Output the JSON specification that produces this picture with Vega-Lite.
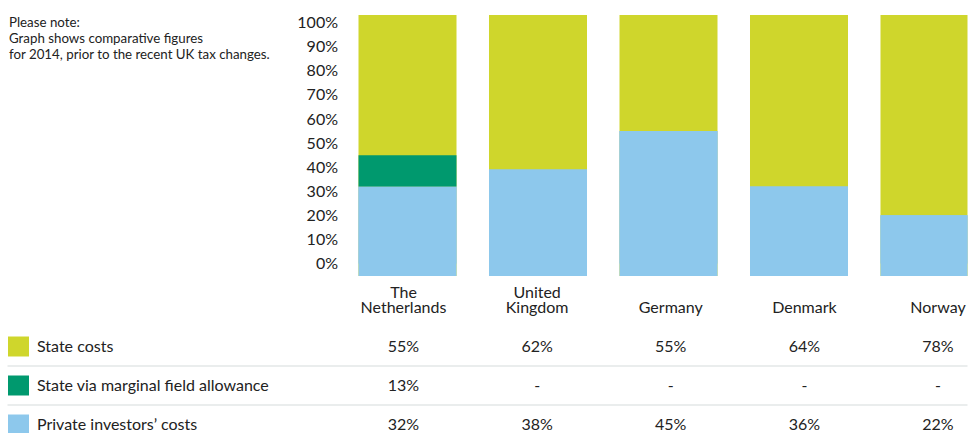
{
  "$schema": "https://vega.github.io/schema/vega-lite/v6.json",
  "padding": {"left": -2.5, "top": 14, "right": 0, "bottom": 0},
  "autosize": {"type": "pad"},
  "spacing": 8,
  "config": {
    "view": {"stroke": null},
    "font": "Lato",
    "text": {"font": "Lato"},
    "axisQuantitative": {"labelOverlap": false, "tickCount": 11}
  },
  "datasets": {
    "bars": [
      {"country": "The Netherlands", "category": "Private investors’ costs", "pct": 32},
      {"country": "The Netherlands", "category": "State via marginal field allowance", "pct": 13},
      {"country": "The Netherlands", "category": "State costs", "pct": 55},
      {"country": "United Kingdom", "category": "Private investors’ costs", "pct": 39},
      {"country": "United Kingdom", "category": "State costs", "pct": 61},
      {"country": "Germany", "category": "Private investors’ costs", "pct": 55},
      {"country": "Germany", "category": "State costs", "pct": 45},
      {"country": "Denmark", "category": "Private investors’ costs", "pct": 32},
      {"country": "Denmark", "category": "State costs", "pct": 68},
      {"country": "Norway", "category": "Private investors’ costs", "pct": 20},
      {"country": "Norway", "category": "State costs", "pct": 80}
    ],
    "table": [
      {"country": "The Netherlands", "row": "State costs", "label": "55%"},
      {"country": "United Kingdom", "row": "State costs", "label": "62%"},
      {"country": "Germany", "row": "State costs", "label": "55%"},
      {"country": "Denmark", "row": "State costs", "label": "64%"},
      {"country": "Norway", "row": "State costs", "label": "78%"},
      {"country": "The Netherlands", "row": "State via marginal field allowance", "label": "13%"},
      {"country": "United Kingdom", "row": "State via marginal field allowance", "label": "-"},
      {"country": "Germany", "row": "State via marginal field allowance", "label": "-"},
      {"country": "Denmark", "row": "State via marginal field allowance", "label": "-"},
      {"country": "Norway", "row": "State via marginal field allowance", "label": "-"},
      {"country": "The Netherlands", "row": "Private investors’ costs", "label": "32%"},
      {"country": "United Kingdom", "row": "Private investors’ costs", "label": "38%"},
      {"country": "Germany", "row": "Private investors’ costs", "label": "45%"},
      {"country": "Denmark", "row": "Private investors’ costs", "label": "36%"},
      {"country": "Norway", "row": "Private investors’ costs", "label": "22%"}
    ]
  },
  "vconcat": [
    {
      "width": 960,
      "height": 261,
      "data": {"name": "bars"},
      "encoding": {
        "x": {
          "field": "country", "type": "nominal",
          "sort": ["The Netherlands", "United Kingdom", "Germany", "Denmark", "Norway"],
          "scale": {"range": [351, 971], "paddingInner": 0.249, "paddingOuter": 0},
          "axis": null
        },
        "color": {
          "field": "category", "type": "nominal",
          "scale": {
            "domain": ["State costs", "State via marginal field allowance", "Private investors’ costs"],
            "range": ["#CFD62C", "#00996E", "#8DC8EC"]
          },
          "legend": null
        }
      },
      "layer": [
        {
          "transform": [{"filter": "datum.category === 'State costs'"}],
          "mark": {"type": "bar", "clip": true},
          "encoding": {
            "y": {
              "datum": 103.2, "type": "quantitative",
              "scale": {"domain": [-5.2, 103.2], "nice": false, "zero": false},
              "axis": {
                "values": [0, 10, 20, 30, 40, 50, 60, 70, 80, 90, 100],
                "labelExpr": "datum.value + '%'",
                "labelOverlap": false,
                "domain": false, "ticks": false, "grid": false,
                "minExtent": 0,
                "labelPadding": 4, "labelFontSize": 16, "labelColor": "#222222", "labelFont": "Lato",
                "offset": -334,
                "title": ["Please note:", "Graph shows comparative figures", "for 2014, prior to the recent UK tax changes."],
                "titleAngle": 0, "titleAlign": "left", "titleBaseline": "top",
                "titleX": -333, "titleY": 0,
                "titleFontSize": 13.3, "titleFontWeight": "normal", "titleColor": "#222222",
                "titleFont": "Lato", "titleLineHeight": 16
              }
            },
            "y2": {"datum": -5.2}
          }
        },
        {
          "transform": [{"filter": "datum.category === 'Private investors’ costs'"}],
          "mark": {"type": "bar", "clip": true},
          "encoding": {
            "y": {"field": "pct", "type": "quantitative",
              "axis": {
                "values": [0, 10, 20, 30, 40, 50, 60, 70, 80, 90, 100],
                "labelExpr": "datum.value + '%'",
                "labelOverlap": false,
                "domain": false, "ticks": false, "grid": false,
                "minExtent": 0,
                "labelPadding": 4, "labelFontSize": 16, "labelColor": "#222222", "labelFont": "Lato",
                "offset": -334,
                "title": ["Please note:", "Graph shows comparative figures", "for 2014, prior to the recent UK tax changes."],
                "titleAngle": 0, "titleAlign": "left", "titleBaseline": "top",
                "titleX": -333, "titleY": 0,
                "titleFontSize": 13.3, "titleFontWeight": "normal", "titleColor": "#222222",
                "titleFont": "Lato", "titleLineHeight": 16
              }
            },
            "y2": {"datum": -5.2}
          }
        },
        {
          "transform": [{"filter": "datum.category !== 'State costs'"}],
          "mark": {"type": "bar", "clip": true},
          "encoding": {
            "y": {"field": "pct", "type": "quantitative", "stack": "zero",
              "axis": {
                "values": [0, 10, 20, 30, 40, 50, 60, 70, 80, 90, 100],
                "labelExpr": "datum.value + '%'",
                "labelOverlap": false,
                "domain": false, "ticks": false, "grid": false,
                "minExtent": 0,
                "labelPadding": 4, "labelFontSize": 16, "labelColor": "#222222", "labelFont": "Lato",
                "offset": -334,
                "title": ["Please note:", "Graph shows comparative figures", "for 2014, prior to the recent UK tax changes."],
                "titleAngle": 0, "titleAlign": "left", "titleBaseline": "top",
                "titleX": -333, "titleY": 0,
                "titleFontSize": 13.3, "titleFontWeight": "normal", "titleColor": "#222222",
                "titleFont": "Lato", "titleLineHeight": 16
              }
            },
            "order": {"field": "category", "sort": "ascending"}
          }
        }
      ]
    },
    {
      "width": 960,
      "height": 146.5,
      "data": {"name": "table"},
      "layer": [
        {
          "transform": [{"filter": "datum.country === 'The Netherlands' && datum.row !== 'State costs'"}],
          "mark": {"type": "rule", "color": "#E3E7E7", "strokeWidth": 1.5},
          "encoding": {
            "y": {"field": "row", "type": "nominal", "bandPosition": 0}
          }
        },
        {
          "mark": {"type": "text", "fontSize": 16, "color": "#222222", "baseline": "middle"},
          "encoding": {
            "x": {
              "field": "country", "type": "nominal",
              "sort": ["The Netherlands", "United Kingdom", "Germany", "Denmark", "Norway"],
              "scale": {"type": "point", "range": [396, 930.5], "padding": 0},
              "axis": null
            },
            "y": {
              "field": "row", "type": "nominal",
              "scale": {
                "domain": ["hdr", "State costs", "State via marginal field allowance", "Private investors’ costs"],
                "range": [0, 156], "paddingInner": 0, "paddingOuter": 0
              },
              "axis": {
                "title": null,
                "offset": -21,
                "minExtent": 0,
                "domain": false, "grid": false,
                "ticks": true, "tickSize": 21, "tickWidth": 20, "bandPosition": 0.5,
                "tickColor": {
                  "condition": [
                    {"test": "datum.value === 'State costs'", "value": "#CFD62C"},
                    {"test": "datum.value === 'State via marginal field allowance'", "value": "#00996E"},
                    {"test": "datum.value === 'Private investors’ costs'", "value": "#8DC8EC"}
                  ],
                  "value": "transparent"
                },
                "labelAlign": "left", "labelBaseline": "middle", "labelPadding": -29, "labelLimit": 0,
                "labelExpr": "datum.value === 'hdr' ? '' : datum.value",
                "labelFontSize": 16, "labelColor": "#222222", "labelFont": "Lato"
              }
            },
            "text": {"field": "label"}
          }
        },
        {
          "transform": [{"filter": "datum.row === 'State costs' && indexof(datum.country, ' ') < 0"}],
          "mark": {"type": "text", "fontSize": 16, "color": "#222222", "baseline": "middle"},
          "encoding": {
            "x": {
              "field": "country", "type": "nominal",
              "sort": ["The Netherlands", "United Kingdom", "Germany", "Denmark", "Norway"]
            },
            "y": {"datum": "hdr", "type": "nominal"},
            "text": {"field": "country"}
          }
        },
        {
          "transform": [{"filter": "datum.row === 'State costs' && indexof(datum.country, ' ') >= 0"}],
          "mark": {"type": "text", "fontSize": 16, "color": "#222222", "baseline": "middle", "lineBreak": " ", "lineHeight": 15, "dy": -15},
          "encoding": {
            "x": {
              "field": "country", "type": "nominal",
              "sort": ["The Netherlands", "United Kingdom", "Germany", "Denmark", "Norway"]
            },
            "y": {"datum": "hdr", "type": "nominal"},
            "text": {"field": "country"}
          }
        }
      ]
    }
  ]
}
